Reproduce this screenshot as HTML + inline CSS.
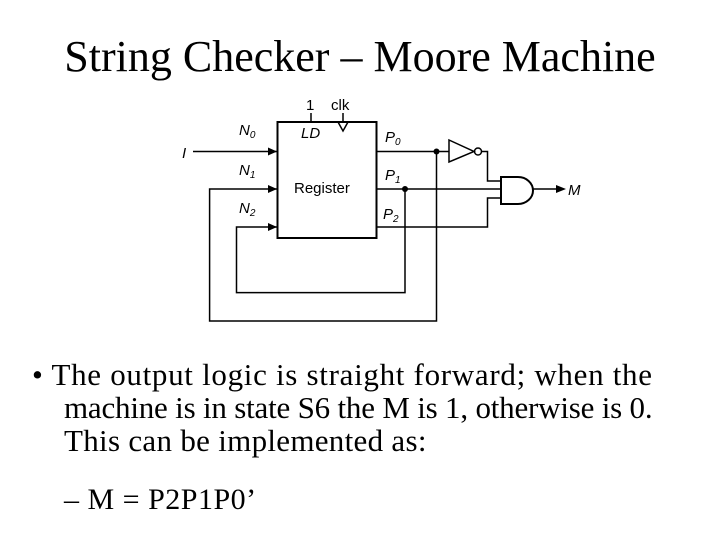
<!DOCTYPE html>
<html><head><meta charset="utf-8"><style>
body{margin:0;width:720px;height:540px;background:#fff;overflow:hidden;font-family:"Liberation Serif",serif;position:relative}
.t{position:absolute;left:0;width:720px;text-align:center;top:32px;font-size:44px;line-height:50px;white-space:nowrap}
.l{position:absolute;font-size:31px;line-height:33px;white-space:nowrap}
.s{position:absolute;left:64px;top:484px;font-size:30px;line-height:32px;white-space:nowrap;letter-spacing:0.5px}
svg{position:absolute;left:0;top:0}
</style></head><body>
<div class="t">String Checker – Moore Machine</div>
<svg width="720" height="540" font-family="Liberation Sans,sans-serif" font-size="15">
<g stroke="#000" stroke-width="1.5" fill="none">
<rect x="277.5" y="122" width="99" height="116" stroke-width="2"/>
<line x1="193" y1="151.5" x2="277" y2="151.5"/>
<polyline points="436.5,151.5 436.5,321 209.6,321 209.6,189 277,189"/>
<polyline points="405,189 405,292.6 236.5,292.6 236.5,227 277,227"/>
<line x1="376.5" y1="151.5" x2="449" y2="151.5"/>
<polygon points="449,140 449,162 474,151.5"/>
<circle cx="478" cy="151.5" r="3.5"/>
<polyline points="482,151.5 487.5,151.5 487.5,181 501,181"/>
<line x1="376.5" y1="189" x2="501" y2="189"/>
<polyline points="376.5,227 487.5,227 487.5,198 501,198"/>
<path d="M501,177 H518 A15,13.5 0 0 1 518,204 H501 Z" stroke-width="2"/>
<line x1="533" y1="189" x2="560" y2="189"/>
<line x1="311" y1="113" x2="311" y2="122"/>
<polyline points="338,122 343,131 348,122"/>
<line x1="343" y1="113" x2="343" y2="122"/>
</g>
<g fill="#000">
<polygon points="277,151.5 268,147.5 268,155.5"/>
<polygon points="277,189 268,185 268,193"/>
<polygon points="277,227 268,223 268,231"/>
<polygon points="566,189 556,185 556,193"/>
<circle cx="436.5" cy="151.5" r="3"/><circle cx="405" cy="189" r="3"/>
</g>
<g font-style="italic">
<text x="182" y="158">I</text>
<text x="239" y="135">N<tspan font-size="10" dy="3">0</tspan></text>
<text x="239" y="175">N<tspan font-size="10" dy="3">1</tspan></text>
<text x="239" y="213">N<tspan font-size="10" dy="3">2</tspan></text>
<text x="301" y="138">LD</text>
<text x="385" y="142">P<tspan font-size="10" dy="3">0</tspan></text>
<text x="385" y="180">P<tspan font-size="10" dy="3">1</tspan></text>
<text x="383" y="219">P<tspan font-size="10" dy="3">2</tspan></text>
<text x="568" y="195">M</text>
</g>
<text x="306" y="110">1</text>
<text x="331" y="110">clk</text>
<text x="294" y="193">Register</text>
</svg>
<div class="l" style="left:32px;top:358px;letter-spacing:0.7px">• The output logic is straight forward; when the</div>
<div class="l" style="left:64px;top:391px;letter-spacing:-0.2px">machine is in state S6 the M is 1, otherwise is 0.</div>
<div class="l" style="left:64px;top:424px;letter-spacing:0.3px">This can be implemented as:</div>
<div class="s">– M = P2P1P0’</div>
</body></html>
